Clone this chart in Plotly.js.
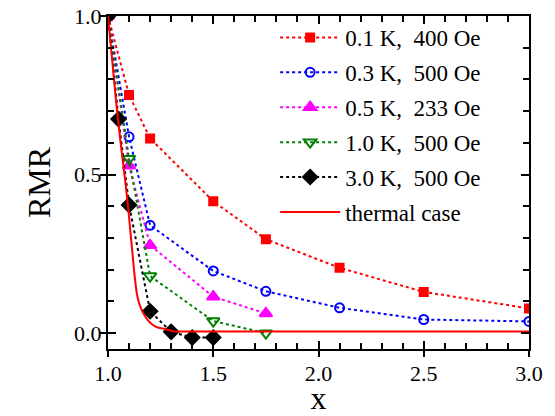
<!DOCTYPE html>
<html><head><meta charset="utf-8">
<script src="https://cdn.plot.ly/plotly-3.0.1.min.js"></script>
<style>body{margin:0;padding:0;background:#fff}#c{width:555px;height:416px}</style>
</head><body><div id="c"></div>
<script>
const names = ["0.1 K,\u00a0 400 Oe","0.3 K,\u00a0 500 Oe","0.5 K,\u00a0 233 Oe","1.0 K,\u00a0 500 Oe","3.0 K,\u00a0 500 Oe","thermal case"];
const x01 = [1.0,1.1,1.2,1.5,1.75,2.1,2.5,3.0];
const y01 = [1.0,0.751,0.614,0.416,0.296,0.206,0.130,0.078];
const x03 = [1.0,1.1,1.2,1.5,1.75,2.1,2.5,3.0];
const y03 = [1.0,0.619,0.340,0.196,0.132,0.080,0.043,0.037];
const x05 = [1.0,1.1,1.2,1.5,1.75];
const y05 = [1.0,0.528,0.277,0.115,0.062];
const x10 = [1.0,1.1,1.2,1.5,1.75];
const y10 = [1.0,0.55,0.18,0.038,0.0];
const x30 = [1.0,1.05,1.1,1.2,1.3,1.4,1.5];
const y30 = [1.0,0.675,0.404,0.069,0.004,-0.014,-0.014];
const xth = [1.0,1.02,1.04,1.06,1.08,1.095,1.105,1.115,1.125,1.137,1.15,1.17,1.19,1.215,1.24,1.27,1.31,1.5,2.0,3.0];
const yth = [1.0,0.86,0.72,0.60,0.49,0.40,0.33,0.26,0.19,0.125,0.09,0.06,0.04,0.025,0.017,0.013,0.006,0.005,0.005,0.005];
const xticks = [1.0,1.5,2.0,2.5,3.0];
const xticktext = ['1.0','1.5','2.0','2.5','3.0'];
const yticks = [0,0.5,1.0];
const yticktext = ['0.0','0.5','1.0'];

const F = "Liberation Serif";
function tr(x,y,name,color,sym,size,g){
  return {x:x,y:y,name:name,mode:'lines+markers',legendgroup:g,
    line:{color:color,width:2,dash:'dot'},
    marker:{symbol:sym,size:size,color:color,line:{color:color,width:2}}};
}
const data = [
  tr(x01,y01,names[0],'#ff0000','square',8,'a'),
  tr(x03,y03,names[1],'#0000ff','circle-open',9,'b'),
  tr(x05,y05,names[2],'#ff00ff','triangle-up',11,'c'),
  tr(x10,y10,names[3],'#008000','triangle-down-open',11,'d'),
  tr(x30,y30,names[4],'#000000','diamond',11,'e'),
  {x:xth,y:yth,name:names[5],mode:'lines',legendgroup:'f',line:{color:'#ff0000',width:2,shape:'spline',smoothing:0.6}},
  {x:[1,3],y:[0,0],xaxis:'x2',yaxis:'y2',mode:'lines',showlegend:false,hoverinfo:'skip',line:{width:0},opacity:0}
];
const ax = {showgrid:false,zeroline:false,showline:true,linecolor:'#000',linewidth:2,mirror:'ticks',
  ticks:'inside',ticklen:8,tickwidth:2,tickcolor:'#000',tickfont:{family:F,size:22,color:'#000'}};
const layout = {
  width:555,height:416,margin:{l:108,r:26,t:16,b:67},
  paper_bgcolor:'#fff',plot_bgcolor:'#fff',showlegend:true,
  font:{family:F,color:'#000',size:22},
  xaxis:Object.assign({},ax,{range:[1.0,3.0],tickvals:xticks,ticktext:xticktext,
    ticklabelstandoff:4,
    minor:{dtick:0.1,tick0:1.0,ticks:'inside',ticklen:6,tickwidth:2,tickcolor:'#000'},
    title:{text:'x',font:{family:F,size:32,color:'#000'},standoff:4}}),
  yaxis:Object.assign({},ax,{range:[-0.05,1.0],tickvals:yticks,ticktext:yticktext,
    minor:{dtick:0.1,tick0:0,ticks:'inside',ticklen:6,tickwidth:2,tickcolor:'#000'},
    title:{text:'RMR',font:{family:F,size:32,color:'#000'},standoff:14}}),
  xaxis2:{overlaying:'x',range:[1.0,3.0],showgrid:false,zeroline:false,showline:false,ticks:'outside',ticklen:7,tickwidth:2,tickcolor:'#000',tickvals:xticks,showticklabels:false,anchor:'y2'},
  yaxis2:{overlaying:'y',range:[-0.05,1.0],showgrid:false,zeroline:false,showline:false,ticks:'outside',ticklen:7,tickwidth:2,tickcolor:'#000',tickvals:yticks,showticklabels:false,anchor:'x2'},
  legend:{x:0.397,xanchor:'left',y:1.0,yanchor:'top',bgcolor:'rgba(0,0,0,0)',borderwidth:0,
    font:{family:F,size:23,color:'#000'},traceorder:'grouped',tracegroupgap:2,itemwidth:60}
};
Plotly.newPlot('c',data,layout,{displayModeBar:false,staticPlot:true});
</script></body></html>
